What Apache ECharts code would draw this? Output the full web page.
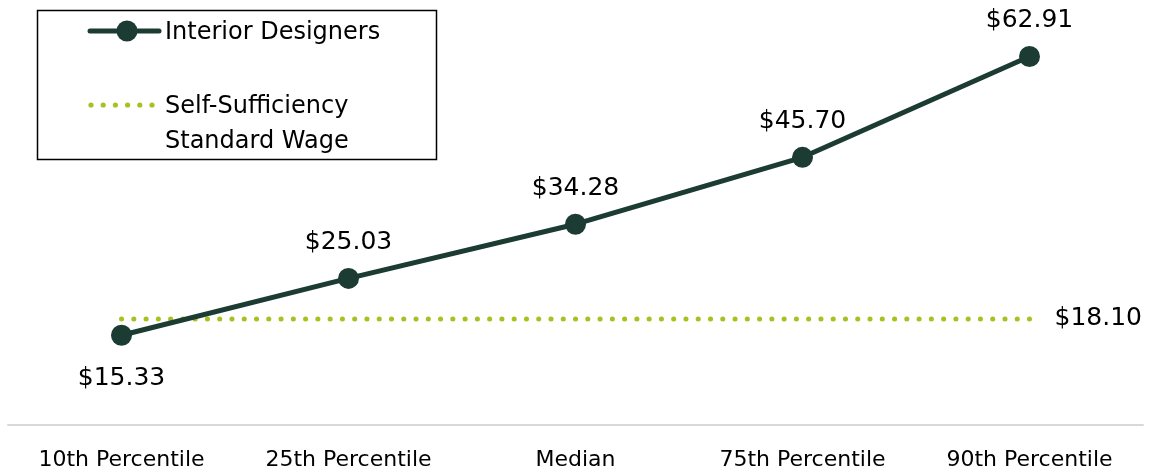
<!DOCTYPE html>
<html>
<head>
<meta charset="utf-8">
<script src="https://cdn.jsdelivr.net/npm/echarts@6/dist/echarts.min.js"></script>
<style>
  html, body { margin: 0; padding: 0; background: #fff; }
  #chart { width: 1151px; height: 471px; }
</style>
</head>
<body>
<div id="chart"></div>
<script>
// data
var categories = ["10th Percentile", "25th Percentile", "Median", "75th Percentile", "90th Percentile"];
var wages = [15.33, 25.03, 34.28, 45.70, 62.91];
var standardWage = [18.10, 18.10, 18.10, 18.10, 18.10];
var seriesNames = ["Interior Designers", "Self-Sufficiency\nStandard Wage"];

var font = "DejaVu Sans";
var dark = "#1c3b33";
var green = "#a9c023";
var mychart = echarts.init(document.getElementById("chart"));

// legend box drawn by hand (icon of the 2nd item sits on its first text line)
var legendDots = [];
for (var i = 0; i < 6; i++) {
  legendDots.push({
    type: "circle",
    shape: { cx: 91 + i * 12.2, cy: 105, r: 2.6 },
    style: { fill: green }
  });
}
var legendGraphic = [
  {
    type: "rect",
    shape: { x: 37.5, y: 10.5, width: 399, height: 149 },
    style: { fill: "#fff", stroke: "#000", lineWidth: 1.5 }
  },
  {
    type: "line",
    shape: { x1: 90, y1: 31, x2: 159, y2: 31 },
    style: { stroke: dark, lineWidth: 5, lineCap: "round" }
  },
  {
    type: "circle",
    shape: { cx: 127, cy: 31, r: 10.5 },
    style: { fill: dark }
  },
  {
    type: "text",
    left: 165,
    top: 21,
    style: { text: seriesNames[0], font: "24px " + font, fill: "#000" }
  },
  {
    type: "text",
    left: 165,
    top: 89,
    style: { text: seriesNames[1], font: "24px " + font, fill: "#000", lineHeight: 35 }
  }
].concat(legendDots);

mychart.setOption({
  animation: false,
  textStyle: { fontFamily: font },
  grid: { left: 8, right: 8, top: 15, bottom: 45 },
  graphic: legendGraphic,
  xAxis: {
    type: "category",
    data: categories,
    axisLine: { lineStyle: { color: "#d9d9d9", width: 2 } },
    axisTick: { show: false },
    axisLabel: { fontFamily: font, fontSize: 22, color: "#000", margin: 24 }
  },
  yAxis: {
    type: "value",
    min: 0,
    max: 70,
    show: false,
    splitLine: { show: false }
  },
  series: [
    {
      name: seriesNames[1],
      type: "line",
      data: standardWage,
      symbol: "none",
      lineStyle: { color: green, width: 5, type: [0.1, 12.17], cap: "round" },
      itemStyle: { color: green },
      endLabel: {
        show: true,
        distance: 25,
        formatter: function (p) { return "$" + p.value.toFixed(2); },
        fontFamily: font,
        fontSize: 25,
        color: "#000"
      }
    },
    {
      name: seriesNames[0],
      type: "line",
      data: wages.map(function (v, i) {
        return {
          value: v,
          label: { position: i === 0 ? "bottom" : "top", distance: i === 0 ? 20 : 13 }
        };
      }),
      symbol: "circle",
      symbolSize: 21,
      lineStyle: { color: dark, width: 5 },
      itemStyle: { color: dark },
      label: {
        show: true,
        formatter: function (p) { return "$" + p.value.toFixed(2); },
        fontFamily: font,
        fontSize: 25,
        color: "#000"
      }
    }
  ]
});
</script>
</body>
</html>
